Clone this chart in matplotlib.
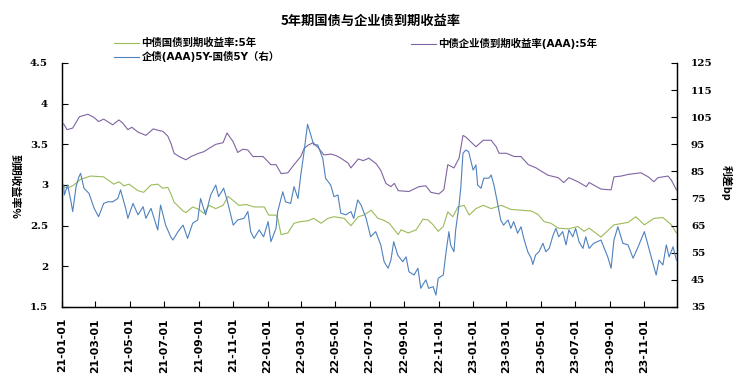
import matplotlib
matplotlib.use("Agg")
import matplotlib.pyplot as plt
import matplotlib.dates as mdates
import pandas as pd

plt.rcParams['font.family'] = ['Noto Sans CJK SC', 'DejaVu Sans']
plt.rcParams['axes.unicode_minus'] = False

title = "5年期国债与企业债到期收益率"
name_gov = "中债国债到期收益率:5年"
name_aaa = "中债企业债到期收益率(AAA):5年"
name_spread = "企债(AAA)5Y-国债5Y（右）"
ylabel_left = "到期收益率%"
ylabel_right = "利差bp"

# 中债企业债到期收益率(AAA):5年  (%)
aaa_dates = ["2021-01-04", "2021-01-10", "2021-01-20", "2021-02-01", "2021-02-16", "2021-02-27",
             "2021-03-07", "2021-03-16", "2021-03-25", "2021-04-01", "2021-04-12", "2021-04-19",
             "2021-04-28", "2021-05-05", "2021-05-16", "2021-05-30", "2021-06-12", "2021-06-22",
             "2021-06-29", "2021-07-08", "2021-07-14", "2021-07-19", "2021-07-28", "2021-08-09",
             "2021-08-18", "2021-09-01", "2021-09-10", "2021-09-19", "2021-10-01", "2021-10-14",
             "2021-10-21", "2021-11-01", "2021-11-09", "2021-11-18", "2021-11-27", "2021-12-06",
             "2021-12-24", "2022-01-07", "2022-01-16", "2022-01-25", "2022-02-06", "2022-02-17",
             "2022-03-01", "2022-03-07", "2022-03-14", "2022-03-23", "2022-04-02", "2022-04-11",
             "2022-04-24", "2022-05-03", "2022-05-11", "2022-05-24", "2022-05-29", "2022-06-11",
             "2022-06-20", "2022-06-30", "2022-07-13", "2022-07-21", "2022-07-30", "2022-08-08",
             "2022-08-14", "2022-08-21", "2022-09-09", "2022-09-27", "2022-10-09", "2022-10-18",
             "2022-11-01", "2022-11-10", "2022-11-17", "2022-11-28", "2022-12-07", "2022-12-14",
             "2022-12-19", "2022-12-28", "2023-01-06", "2023-01-19", "2023-02-02", "2023-02-11",
             "2023-02-16", "2023-03-01", "2023-03-15", "2023-03-27", "2023-04-09", "2023-04-23",
             "2023-05-02", "2023-05-14", "2023-06-01", "2023-06-11", "2023-06-20", "2023-07-06",
             "2023-07-21", "2023-07-26", "2023-08-16", "2023-09-03", "2023-09-08", "2023-09-21",
             "2023-10-03", "2023-10-26", "2023-11-08", "2023-11-18", "2023-11-25", "2023-12-13",
             "2023-12-19", "2023-12-28"]
aaa_values = [3.75, 3.68, 3.70, 3.84, 3.87, 3.83,
              3.78, 3.81, 3.77, 3.74, 3.80, 3.76,
              3.68, 3.71, 3.65, 3.61, 3.69, 3.67,
              3.66, 3.60, 3.50, 3.39, 3.35, 3.31,
              3.35, 3.39, 3.41, 3.45, 3.50, 3.52,
              3.64, 3.53, 3.40, 3.44, 3.43, 3.35,
              3.35, 3.25, 3.25, 3.14, 3.15, 3.25,
              3.35, 3.45, 3.49, 3.52, 3.45, 3.37,
              3.38, 3.36, 3.33, 3.27, 3.21, 3.32,
              3.30, 3.33, 3.26, 3.18, 3.02, 2.98,
              3.02, 2.93, 2.92, 2.98, 2.99, 2.91,
              2.89, 2.94, 3.25, 3.21, 3.33, 3.61,
              3.59, 3.53, 3.47, 3.55, 3.55, 3.47,
              3.39, 3.39, 3.35, 3.35, 3.25, 3.21,
              3.17, 3.12, 3.09, 3.03, 3.09, 3.04,
              2.98, 3.03, 2.95, 2.94, 3.10, 3.11,
              3.13, 3.15, 3.10, 3.04, 3.09, 3.11,
              3.06, 2.94]

# 中债国债到期收益率:5年  (%)
gov_dates = ["2021-01-04", "2021-01-11", "2021-01-22", "2021-02-03", "2021-02-21", "2021-03-16",
             "2021-04-03", "2021-04-12", "2021-04-21", "2021-04-30", "2021-05-16", "2021-05-26",
             "2021-06-08", "2021-06-20", "2021-06-29", "2021-07-08", "2021-07-14", "2021-07-19",
             "2021-08-04", "2021-08-09", "2021-08-21", "2021-09-01", "2021-09-10", "2021-09-19",
             "2021-10-01", "2021-10-14", "2021-10-23", "2021-11-06", "2021-11-11", "2021-11-24",
             "2021-12-08", "2021-12-26", "2022-01-03", "2022-01-16", "2022-01-19", "2022-01-25",
             "2022-02-06", "2022-02-17", "2022-03-01", "2022-03-14", "2022-03-24", "2022-04-06",
             "2022-04-18", "2022-04-29", "2022-05-17", "2022-05-29", "2022-06-11", "2022-06-21",
             "2022-07-04", "2022-07-16", "2022-07-25", "2022-08-05", "2022-08-21", "2022-08-26",
             "2022-09-08", "2022-09-22", "2022-10-04", "2022-10-13", "2022-10-22", "2022-10-31",
             "2022-11-09", "2022-11-17", "2022-11-26", "2022-12-05", "2022-12-16", "2022-12-25",
             "2023-01-06", "2023-01-19", "2023-02-02", "2023-02-20", "2023-03-09", "2023-03-27",
             "2023-04-14", "2023-04-26", "2023-05-07", "2023-05-19", "2023-06-01", "2023-06-19",
             "2023-07-06", "2023-07-17", "2023-07-26", "2023-08-16", "2023-09-08", "2023-10-03",
             "2023-10-17", "2023-11-01", "2023-11-18", "2023-12-04", "2023-12-19", "2023-12-28"]
gov_values = [2.98, 2.96, 3.00, 3.07, 3.11, 3.10,
              3.01, 3.04, 2.99, 3.01, 2.93, 2.91,
              3.00, 3.01, 2.96, 2.97, 2.88, 2.79,
              2.68, 2.66, 2.73, 2.70, 2.65, 2.75,
              2.71, 2.75, 2.86, 2.78, 2.75, 2.76,
              2.73, 2.73, 2.63, 2.63, 2.59, 2.39,
              2.41, 2.53, 2.55, 2.56, 2.59, 2.53,
              2.59, 2.61, 2.59, 2.50, 2.61, 2.63,
              2.69, 2.59, 2.57, 2.53, 2.39, 2.45,
              2.41, 2.45, 2.58, 2.57, 2.51, 2.43,
              2.49, 2.67, 2.61, 2.73, 2.75, 2.63,
              2.71, 2.75, 2.71, 2.75, 2.70, 2.69,
              2.68, 2.64, 2.55, 2.53, 2.47, 2.46,
              2.49, 2.43, 2.47, 2.36, 2.51, 2.54,
              2.61, 2.51, 2.59, 2.60, 2.51, 2.41]

# 企债(AAA)5Y-国债5Y  (bp, right axis)
spread_dates = ["2021-01-04", "2021-01-05", "2021-01-11", "2021-01-17", "2021-01-20", "2021-01-26",
                "2021-01-31", "2021-02-03", "2021-02-09", "2021-02-18", "2021-02-27", "2021-03-07",
                "2021-03-16", "2021-03-23", "2021-04-01", "2021-04-10", "2021-04-15", "2021-04-24",
                "2021-04-28", "2021-05-07", "2021-05-16", "2021-05-25", "2021-05-30", "2021-06-08",
                "2021-06-20", "2021-06-25", "2021-07-04", "2021-07-13", "2021-07-17", "2021-07-26",
                "2021-08-04", "2021-08-12", "2021-08-21", "2021-08-30", "2021-09-04", "2021-09-13",
                "2021-09-22", "2021-10-01", "2021-10-06", "2021-10-15", "2021-10-22", "2021-11-01",
                "2021-11-09", "2021-11-20", "2021-11-27", "2021-12-02", "2021-12-08", "2021-12-17",
                "2021-12-25", "2022-01-02", "2022-01-07", "2022-01-16", "2022-01-19", "2022-01-28",
                "2022-02-02", "2022-02-11", "2022-02-17", "2022-02-24", "2022-03-01", "2022-03-06",
                "2022-03-13", "2022-03-17", "2022-03-24", "2022-03-31", "2022-04-09", "2022-04-14",
                "2022-04-23", "2022-04-29", "2022-05-06", "2022-05-11", "2022-05-20", "2022-05-29",
                "2022-06-03", "2022-06-10", "2022-06-16", "2022-06-25", "2022-07-03", "2022-07-12",
                "2022-07-21", "2022-07-27", "2022-08-03", "2022-08-08", "2022-08-13", "2022-08-20",
                "2022-08-29", "2022-09-04", "2022-09-09", "2022-09-18", "2022-09-25", "2022-09-30",
                "2022-10-09", "2022-10-14", "2022-10-22", "2022-10-27", "2022-10-31", "2022-11-09",
                "2022-11-14", "2022-11-19", "2022-11-22", "2022-11-28", "2022-12-01", "2022-12-07",
                "2022-12-10", "2022-12-14", "2022-12-19", "2022-12-24", "2023-01-01", "2023-01-06",
                "2023-01-09", "2023-01-15", "2023-01-20", "2023-01-29", "2023-02-02", "2023-02-07",
                "2023-02-14", "2023-02-19", "2023-02-24", "2023-03-04", "2023-03-09", "2023-03-14",
                "2023-03-21", "2023-03-27", "2023-04-01", "2023-04-08", "2023-04-14", "2023-04-17",
                "2023-04-22", "2023-04-28", "2023-05-05", "2023-05-10", "2023-05-16", "2023-05-23",
                "2023-05-28", "2023-06-02", "2023-06-09", "2023-06-15", "2023-06-20", "2023-06-27",
                "2023-07-02", "2023-07-08", "2023-07-15", "2023-07-20", "2023-07-26", "2023-08-03",
                "2023-08-16", "2023-08-28", "2023-09-03", "2023-09-08", "2023-09-15", "2023-09-24",
                "2023-10-03", "2023-10-12", "2023-10-21", "2023-11-01", "2023-11-10", "2023-11-22",
                "2023-11-27", "2023-12-04", "2023-12-10", "2023-12-15", "2023-12-22", "2023-12-28"]
spread_values = [80.0, 76.3, 80.0, 73.8, 70.2, 79.4,
                 83.0, 84.3, 78.8, 76.9, 71.4, 68.3,
                 73.2, 73.8, 73.8, 75.0, 78.2, 71.4,
                 67.7, 73.2, 69.0, 72.0, 67.7, 71.4,
                 63.4, 72.6, 65.2, 60.9, 59.7, 62.8,
                 65.2, 60.3, 65.9, 67.1, 75.0, 69.0,
                 76.3, 80.0, 75.7, 78.8, 73.8, 65.2,
                 67.1, 67.7, 70.2, 62.8, 60.3, 63.4,
                 60.9, 66.5, 59.1, 64.0, 70.2, 77.5,
                 73.8, 73.2, 79.4, 75.0, 83.7, 91.0,
                 102.4, 99.7, 94.8, 94.8, 89.8, 82.5,
                 80.0, 75.7, 76.3, 69.6, 69.0, 70.2,
                 67.7, 74.5, 72.6, 67.7, 60.9, 62.8,
                 57.9, 51.7, 49.3, 52.3, 59.1, 54.2,
                 51.7, 53.5, 48.0, 46.8, 49.3, 41.9,
                 45.0, 41.9, 42.5, 39.4, 45.6, 46.8,
                 55.4, 62.8, 57.9, 55.4, 63.4, 72.6,
                 78.8, 91.7, 92.9, 92.3, 85.5, 87.4,
                 80.0, 78.8, 82.5, 82.5, 83.7, 80.0,
                 72.6, 67.1, 65.2, 67.1, 64.0, 66.5,
                 62.2, 64.6, 60.3, 55.4, 53.0, 50.7,
                 54.2, 55.4, 58.5, 55.4, 56.6, 61.5,
                 64.0, 60.9, 62.8, 57.9, 63.4, 60.9,
                 64.0, 59.1, 56.6, 60.9, 56.6, 58.5,
                 59.7, 53.5, 49.3, 59.7, 64.6, 58.5,
                 57.9, 53.0, 57.2, 62.8, 56.0, 46.8,
                 52.3, 50.5, 57.9, 53.5, 57.2, 52.3]

left_ticks = [1.5, 2, 2.5, 3, 3.5, 4, 4.5]
left_tick_labels = ["1.5", "2", "2.5", "3", "3.5", "4", "4.5"]
right_ticks = [35, 45, 55, 65, 75, 85, 95, 105, 115, 125]
x_start, x_end = "2021-01-01", "2023-12-29"

c_gov = "#9BBB59"
c_aaa = "#8064A2"
c_spread = "#4F81BD"

W, H = 743, 378
fig = plt.figure(figsize=(W / 100, H / 100), dpi=100)
ax = fig.add_axes([62 / W, 1 - 307 / H, (677 - 62) / W, (307 - 63) / H])
ax2 = ax.twinx()

l_gov, = ax.plot(pd.to_datetime(gov_dates), gov_values, color=c_gov, lw=0.8)
l_aaa, = ax.plot(pd.to_datetime(aaa_dates), aaa_values, color=c_aaa, lw=0.8)
l_spr, = ax2.plot(pd.to_datetime(spread_dates), spread_values, color=c_spread, lw=0.8)

ax.set_xlim(pd.Timestamp(x_start), pd.Timestamp(x_end))
ax.set_ylim(1.5, 4.5)
ax2.set_ylim(35, 125)

num_font = dict(family='DejaVu Serif', weight='bold', size=7.5)
ax.set_yticks(left_ticks)
ax.set_yticklabels(left_tick_labels, fontdict=num_font)
ax2.set_yticks(right_ticks)
ax2.set_yticklabels([str(t) for t in right_ticks], fontdict=num_font)

ax.xaxis.set_major_locator(mdates.MonthLocator(bymonth=[1, 3, 5, 7, 9, 11], bymonthday=1))
ax.xaxis.set_major_formatter(mdates.DateFormatter('%y-%m-%d'))
for lab in ax.get_xticklabels():
    lab.set_rotation(90)
    lab.set_fontfamily('DejaVu Sans')
    lab.set_fontweight('bold')
    lab.set_fontsize(7.8)

ax.tick_params(axis='y', direction='in', length=4, width=0.8, pad=10)
ax2.tick_params(axis='y', direction='in', length=4, width=0.8, pad=10)
ax.tick_params(axis='x', direction='in', length=4, width=0.8, pad=8)

for a in (ax, ax2):
    a.spines['top'].set_visible(False)
    for s in ('left', 'right', 'bottom'):
        a.spines[s].set_linewidth(0.9)
        a.spines[s].set_color('black')
    a.set_facecolor('none')

fig.text(371 / W, 1 - 21 / H, title, ha='center', va='center', fontsize=9.5, fontweight='bold')
fig.text(15 / W, 1 - 186 / H, ylabel_left, rotation=270, ha='center', va='center',
         fontsize=7.8, fontweight='bold')
fig.text(726 / W, 1 - 183 / H, ylabel_right, rotation=270, ha='center', va='center',
         fontsize=7.8, fontweight='bold')

leg_kw = dict(frameon=False, handlelength=2.4, handletextpad=0.25,
              borderpad=0, borderaxespad=0, labelspacing=0.3, loc='upper left',
              prop=dict(family=['DejaVu Sans', 'Noto Sans CJK SC'], weight='bold', size=7.5))
leg1 = fig.legend([l_gov, l_spr], [name_gov, name_spread],
                  bbox_to_anchor=(114 / W, 1 - 38 / H), **leg_kw)
leg2 = fig.legend([l_aaa], [name_aaa],
                  bbox_to_anchor=(411 / W, 1 - 38 / H), **leg_kw)

fig.savefig("out.png", dpi=100)
